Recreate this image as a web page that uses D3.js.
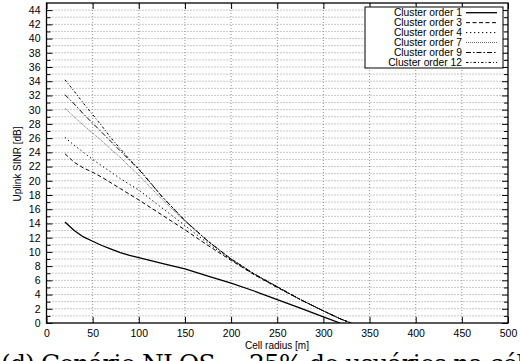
<!DOCTYPE html>
<html><head><meta charset="utf-8">
<script src="https://cdn.jsdelivr.net/npm/d3@7"></script>
<style>html,body{margin:0;padding:0;background:#fff;overflow:hidden}svg{display:block}</style>
</head><body>
<script>
const radius = [20,30,40,50,60,70,80,90,100,125,150,175,200,225,250,275,300,318,330];
const seriesNames = ["Cluster order 1","Cluster order 3","Cluster order 4","Cluster order 7","Cluster order 9","Cluster order 12"];
const c1  = [14.2,13.0,12.1,11.5,10.9,10.4,9.9,9.5,9.2,8.4,7.6,6.6,5.6,4.5,3.3,2.1,0.85,0,null];
const c3  = [23.8,22.6,21.8,21.2,20.5,19.7,18.9,18.1,17.3,15.2,13.1,10.9,8.8,6.8,5.0,3.3,1.7,0.6,0];
const c4  = [26.1,25.0,24.0,23.0,22.1,21.2,20.3,19.5,18.7,16.2,13.7,11.2,8.9,6.8,5.0,3.3,1.7,0.6,0];
const c7  = [30.2,29.0,27.8,26.7,25.6,24.4,23.3,22.0,20.8,17.4,14.3,11.5,9.0,6.9,5.1,3.3,1.7,0.6,0];
const c9  = [32.1,30.8,29.4,28.1,26.8,25.5,24.2,22.9,21.6,17.8,14.4,11.5,9.0,6.9,5.1,3.3,1.7,0.6,0];
const c12 = [34.2,32.6,30.9,29.3,27.7,26.0,24.5,23.0,21.7,17.8,14.4,11.5,9.0,6.9,5.1,3.3,1.7,0.6,0];
const xTicks = [0,50,100,150,200,250,300,350,400,450,500];
const yTicks = d3.range(0,45,2);
const yMinor = d3.range(1,45,2);
const xLabel = "Cell radius [m]";
const yLabel = "Uplink SINR [dB]";
const caption = "(d) Cenário NLOS − 25% de usuários na célula";

const values = [c1,c3,c4,c7,c9,c12];
const styles = [
  {dash:null, color:"#000", w:1.3},
  {dash:"4,2.5", color:"#000", w:1},
  {dash:"1.3,2.7", color:"#000", w:1},
  {dash:"1,1", color:"#555", w:0.9},
  {dash:"5,2,1.5,2", color:"#000", w:1},
  {dash:"2.5,2,1,2", color:"#000", w:1}
];

const W=520,H=361;
const svg=d3.select("body").append("svg").attr("width",W).attr("height",H);
const x=d3.scaleLinear([0,500],[46.5,508]);
const y=d3.scaleLinear([0,45],[323,3]);
const font="Liberation Sans, Arial, sans-serif";

// grid
const g=svg.append("g");
g.selectAll("line.h").data(d3.range(1,45)).join("line")
 .attr("x1",x(0)).attr("x2",x(500)).attr("y1",d=>y(d)).attr("y2",d=>y(d))
 .attr("stroke","#777").attr("stroke-width",0.8).attr("stroke-dasharray","1,2");
g.selectAll("line.v").data(xTicks.slice(1,-1)).join("line")
 .attr("x1",d=>x(d)).attr("x2",d=>x(d)).attr("y1",y(0)).attr("y2",y(45))
 .attr("stroke","#777").attr("stroke-width",0.8).attr("stroke-dasharray","1,2");

// axes
function styleAxis(sel){sel.select(".domain").remove();sel.selectAll("text").attr("font-family",font).attr("font-size",10.5).attr("fill","#000");sel.selectAll("line").attr("stroke","#000");}
svg.append("g").attr("transform",`translate(${x(0)},0)`).call(d3.axisLeft(y).tickValues(yTicks).tickSize(-6).tickPadding(6)).call(styleAxis);
svg.append("g").attr("transform",`translate(${x(0)},0)`).call(d3.axisLeft(y).tickValues(yMinor).tickSize(-4).tickFormat("")).call(styleAxis);
svg.append("g").attr("transform",`translate(${x(500)},0)`).call(d3.axisRight(y).tickValues(yTicks).tickSize(-6).tickFormat("")).call(styleAxis);
svg.append("g").attr("transform",`translate(${x(500)},0)`).call(d3.axisRight(y).tickValues(yMinor).tickSize(-4).tickFormat("")).call(styleAxis);
svg.append("g").attr("transform",`translate(0,${y(0)})`).call(d3.axisBottom(x).tickValues(xTicks).tickSize(-6).tickPadding(7)).call(styleAxis);
svg.append("g").attr("transform",`translate(0,${y(45)})`).call(d3.axisTop(x).tickValues(xTicks).tickSize(-6).tickFormat("")).call(styleAxis);

// clip
svg.append("clipPath").attr("id","cp").append("rect").attr("x",x(0)).attr("y",y(45)).attr("width",x(500)-x(0)).attr("height",y(0)-y(45));

const line=d3.line().defined(d=>d[1]!=null).x(d=>x(d[0])).y(d=>y(d[1]));
const lg=svg.append("g").attr("clip-path","url(#cp)");
values.forEach((vals,i)=>{
  const s=styles[i];
  lg.append("path").datum(radius.map((r,j)=>[r,vals[j]]))
   .attr("d",line).attr("fill","none").attr("stroke",s.color).attr("stroke-width",s.w)
   .attr("stroke-dasharray",s.dash);
});

// frame
svg.append("rect").attr("x",x(0)).attr("y",y(45)).attr("width",x(500)-x(0)).attr("height",y(0)-y(45))
 .attr("fill","none").attr("stroke","#000").attr("stroke-width",1.3);

// legend
const leg=svg.append("g");
leg.append("rect").attr("x",365).attr("y",7).attr("width",138).attr("height",61).attr("fill","#fff").attr("stroke","#000").attr("stroke-width",1);
seriesNames.forEach((n,i)=>{
  const yy=12.7+i*9.95;
  leg.append("text").attr("x",462).attr("y",yy).attr("dy","0.35em").attr("text-anchor","end")
   .attr("font-family",font).attr("font-size",10.3).text(n);
  const s=styles[i];
  leg.append("line").attr("x1",466).attr("x2",497).attr("y1",yy).attr("y2",yy)
   .attr("stroke",s.color).attr("stroke-width",s.w).attr("stroke-dasharray",s.dash);
});

// axis titles
svg.append("text").attr("x",277).attr("y",348.5).attr("text-anchor","middle").attr("font-family",font).attr("font-size",10).text(xLabel);
svg.append("text").attr("transform","translate(21,164) rotate(-90)").attr("text-anchor","middle").attr("font-family",font).attr("font-size",10).text(yLabel);

// caption (cut off at bottom, as in the reference)
svg.append("text").attr("x",1).attr("y",372).attr("font-family","DejaVu Serif, serif").attr("font-size",25)
 .attr("textLength",560).attr("lengthAdjust","spacing")
 .text(caption);
</script>
</body></html>
